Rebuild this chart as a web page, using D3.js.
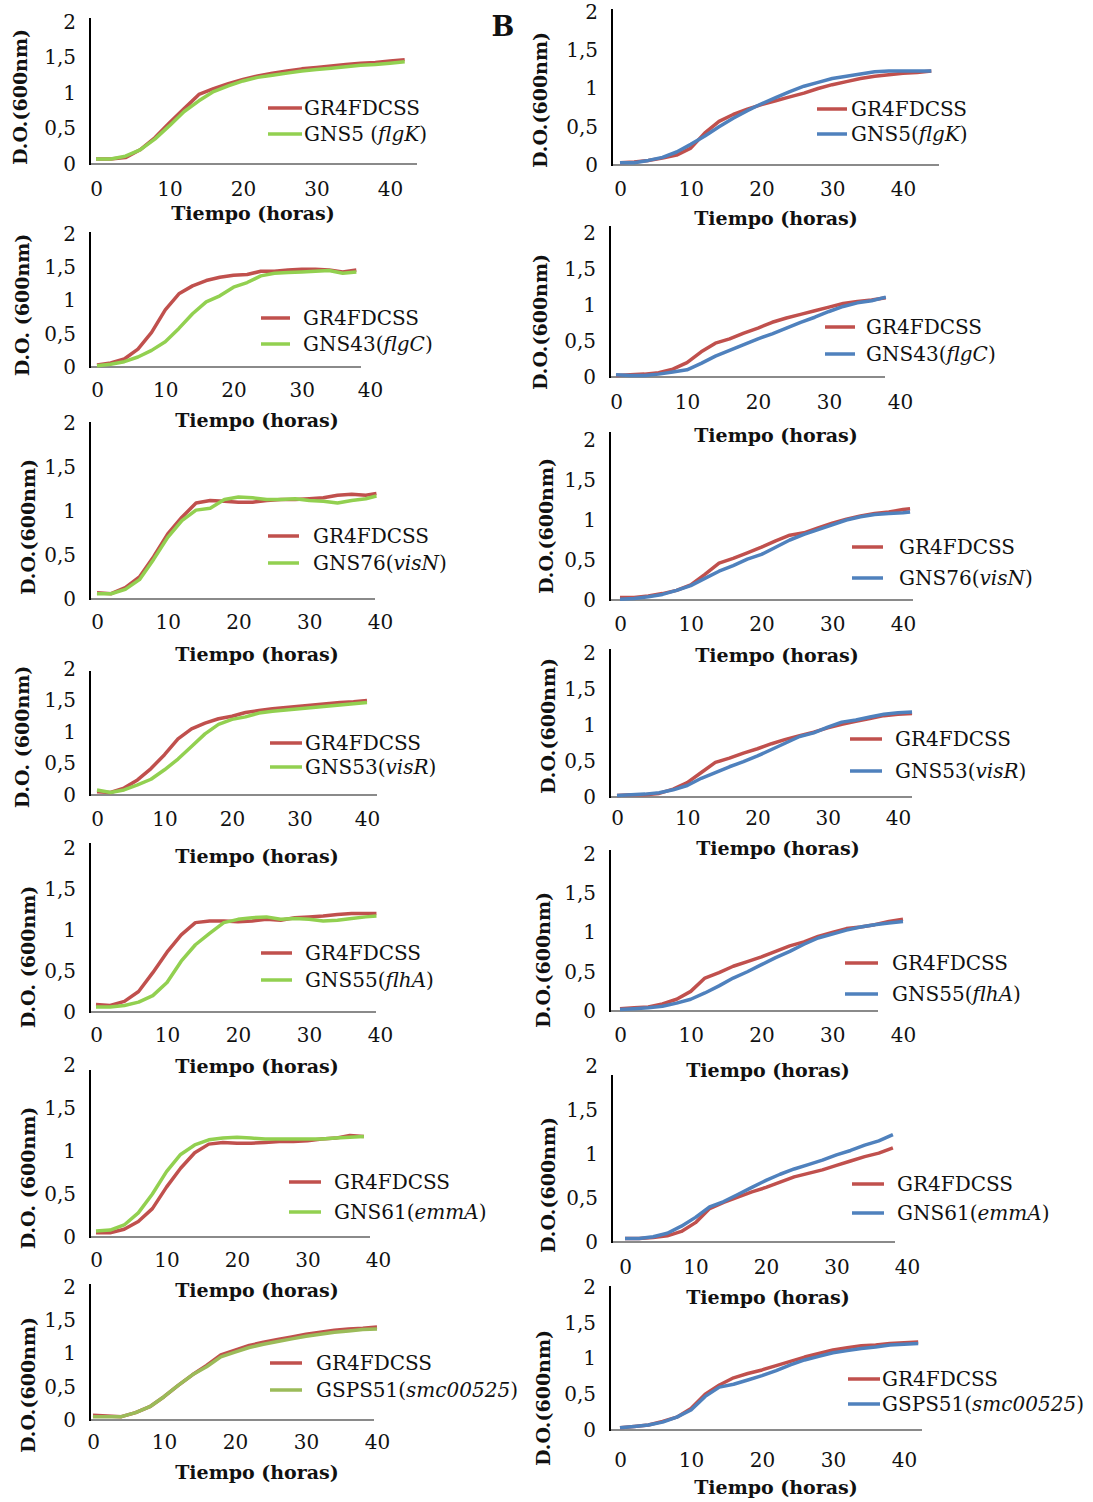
<!DOCTYPE html>
<html>
<head>
<meta charset="utf-8">
<script src="https://cdn.jsdelivr.net/npm/d3@7"></script>
<style>
  body { margin: 0; background: #fff; }
  svg { display: block; }
  text { font-family: "DejaVu Serif", serif; fill: #111; }
</style>
</head>
<body>
<div id="fig"></div>
<script>
// ---- data ----
const yTicks = [0, 0.5, 1, 1.5, 2]
const xTicks = [0, 10, 20, 30, 40]
const wildName = 'GR4FDCSS'
const yLabel = 'D.O.(600nm)'
const yLabelSp = 'D.O. (600nm)'
const xLabel = 'Tiempo (horas)'

const hours2 = (n) => d3.range(0, n + 1, 2) // 0,2,4,... sampling grid of the curves

const hoursA1 = hours2(42)
const wildA1 = [0.07,0.07,0.09,0.2,0.37,0.58,0.78,0.98,1.06,1.13,1.19,1.24,1.28,1.31,1.34,1.36,1.38,1.4,1.42,1.43,1.45,1.47]
const mutA1 = [0.07,0.07,0.11,0.2,0.35,0.54,0.74,0.89,1.02,1.1,1.17,1.22,1.25,1.28,1.31,1.33,1.35,1.37,1.39,1.4,1.42,1.44]

const hoursB1 = hours2(44)
const wildB1 = [0.03,0.04,0.06,0.09,0.13,0.22,0.42,0.57,0.66,0.73,0.79,0.84,0.89,0.94,1.0,1.05,1.09,1.13,1.16,1.18,1.2,1.21,1.23]
const mutB1 = [0.03,0.03,0.06,0.1,0.17,0.27,0.38,0.5,0.61,0.71,0.8,0.88,0.96,1.03,1.08,1.13,1.16,1.19,1.22,1.23,1.23,1.23,1.23]

const hoursA2 = hours2(38)
const wildA2 = [0.03,0.06,0.12,0.27,0.52,0.86,1.1,1.22,1.3,1.35,1.38,1.39,1.44,1.44,1.46,1.47,1.47,1.46,1.43,1.46]
const mutA2 = [0.02,0.04,0.08,0.15,0.25,0.38,0.58,0.8,0.98,1.07,1.2,1.27,1.37,1.41,1.42,1.43,1.44,1.45,1.41,1.43]

const hoursB2 = hours2(38)
const wildB2 = [0.02,0.03,0.04,0.06,0.11,0.2,0.35,0.47,0.53,0.61,0.68,0.76,0.82,0.87,0.92,0.97,1.02,1.05,1.07,1.1]
const mutB2 = [0.03,0.02,0.02,0.04,0.07,0.1,0.19,0.29,0.37,0.45,0.53,0.6,0.68,0.76,0.83,0.91,0.98,1.03,1.06,1.11]

const hoursA3 = [0,2,4,6,8,10,12,14,16,18,20,22,24,26,28,30,32,34,36,38,39.5]
const wildA3 = [0.07,0.06,0.13,0.25,0.48,0.74,0.93,1.09,1.12,1.11,1.1,1.1,1.12,1.13,1.13,1.14,1.15,1.18,1.19,1.18,1.2]
const mutA3 = [0.06,0.06,0.11,0.22,0.45,0.7,0.89,1.01,1.03,1.13,1.16,1.15,1.13,1.13,1.14,1.12,1.11,1.09,1.12,1.14,1.17]

const hoursB3 = [0,2,4,6,8,10,12,14,16,18,20,22,24,26,28,30,32,34,36,38,40,41]
const wildB3 = [0.03,0.03,0.05,0.08,0.12,0.19,0.32,0.46,0.52,0.59,0.66,0.74,0.81,0.84,0.9,0.96,1.01,1.05,1.08,1.1,1.13,1.14]
const mutB3 = [0.01,0.02,0.04,0.07,0.12,0.18,0.27,0.36,0.43,0.51,0.57,0.66,0.75,0.82,0.88,0.94,1.0,1.04,1.07,1.08,1.09,1.1]

const hoursA4 = hours2(40)
const wildA4 = [0.05,0.04,0.11,0.24,0.42,0.64,0.89,1.05,1.14,1.21,1.25,1.31,1.34,1.37,1.39,1.41,1.43,1.45,1.47,1.48,1.5]
const mutA4 = [0.08,0.04,0.08,0.16,0.25,0.4,0.57,0.77,0.97,1.12,1.2,1.24,1.3,1.33,1.35,1.37,1.39,1.41,1.43,1.45,1.47]

const hoursB4 = hours2(42)
const wildB4 = [0.02,0.03,0.03,0.05,0.11,0.2,0.34,0.48,0.54,0.61,0.67,0.74,0.8,0.85,0.9,0.96,1.01,1.05,1.09,1.13,1.15,1.16]
const mutB4 = [0.02,0.03,0.04,0.06,0.1,0.16,0.26,0.34,0.42,0.49,0.57,0.66,0.75,0.84,0.89,0.97,1.04,1.07,1.11,1.15,1.17,1.18]

const hoursA5 = [0,2,4,6,8,10,12,14,16,18,20,22,24,26,28,30,32,34,36,38,39.5]
const wildA5 = [0.09,0.08,0.13,0.25,0.48,0.73,0.94,1.09,1.11,1.11,1.1,1.11,1.13,1.12,1.15,1.16,1.17,1.19,1.2,1.2,1.2]
const mutA5 = [0.06,0.06,0.08,0.12,0.2,0.36,0.62,0.82,0.96,1.09,1.13,1.15,1.16,1.13,1.14,1.13,1.11,1.12,1.14,1.16,1.17]

const hoursB5 = hours2(40)
const wildB5 = [0.03,0.04,0.05,0.09,0.15,0.25,0.42,0.49,0.57,0.63,0.69,0.76,0.83,0.88,0.95,1.0,1.05,1.07,1.1,1.14,1.17]
const mutB5 = [0.02,0.03,0.04,0.06,0.1,0.15,0.23,0.32,0.42,0.5,0.59,0.68,0.76,0.85,0.93,0.98,1.03,1.07,1.1,1.12,1.14]

const hoursA6 = hours2(38)
const wildA6 = [0.05,0.05,0.09,0.18,0.33,0.58,0.8,0.98,1.08,1.1,1.09,1.09,1.1,1.11,1.11,1.12,1.14,1.15,1.18,1.17]
const mutA6 = [0.07,0.08,0.14,0.28,0.5,0.76,0.96,1.07,1.13,1.15,1.16,1.15,1.14,1.14,1.14,1.14,1.14,1.15,1.16,1.17]

const hoursB6 = hours2(38)
const wildB6 = [0.04,0.04,0.05,0.07,0.12,0.22,0.38,0.45,0.51,0.57,0.62,0.68,0.74,0.78,0.82,0.87,0.92,0.97,1.01,1.07]
const mutB6 = [0.04,0.04,0.06,0.1,0.18,0.28,0.4,0.46,0.54,0.62,0.7,0.77,0.83,0.88,0.93,0.99,1.04,1.1,1.15,1.22]

const hoursA7 = hours2(40)
const wildA7 = [0.07,0.06,0.05,0.11,0.2,0.35,0.52,0.68,0.82,0.98,1.05,1.12,1.17,1.21,1.25,1.29,1.32,1.35,1.37,1.38,1.4]
const mutA7 = [0.05,0.05,0.05,0.11,0.2,0.35,0.52,0.68,0.8,0.95,1.02,1.09,1.14,1.18,1.22,1.26,1.29,1.32,1.34,1.36,1.37]

const hoursB7 = hours2(42)
const wildB7 = [0.03,0.05,0.07,0.12,0.18,0.3,0.5,0.63,0.73,0.79,0.84,0.9,0.96,1.02,1.07,1.12,1.15,1.18,1.19,1.21,1.22,1.23]
const mutB7 = [0.03,0.05,0.07,0.11,0.18,0.28,0.47,0.6,0.64,0.7,0.76,0.83,0.91,0.98,1.03,1.08,1.11,1.14,1.16,1.19,1.2,1.21]

// mutant legend names: [before, italic gene, after]
const nameFlgK = ['GNS5 (', 'flgK', ')']
const nameFlgKb = ['GNS5(', 'flgK', ')']
const nameFlgC = ['GNS43(', 'flgC', ')']
const nameVisN = ['GNS76(', 'visN', ')']
const nameVisR = ['GNS53(', 'visR', ')']
const nameFlhA = ['GNS55(', 'flhA', ')']
const nameEmmA = ['GNS61(', 'emmA', ')']
const nameSmc = ['GSPS51(', 'smc00525', ')']

// ---- colours ----
const red = '#C0504D'
const green = '#92D050'
const olive = '#9BBB59'
const blue = '#4F81BD'

// ---- layout of the 14 panels (pixels) ----
// ax: y-axis x, top: axis top, y0/y2: pixel of 0 and 2, x0/x40: pixel of 0 and 40 h, xEnd: end of x axis
const panels = [
  { hours: hoursA1, wild: wildA1, mut: mutA1, name: nameFlgK, col: green, ax: 90, top: 18, y0: 164, y2: 22, x0: 96, x40: 390, xEnd: 417, tickY: 189,
    leg: [268, 302, 304, 108, 134], title: [253, 213], ylab: [20, 97, yLabel] },
  { hours: hoursA2, wild: wildA2, mut: mutA2, name: nameFlgC, col: green, ax: 90, top: 232, y0: 367, y2: 234, x0: 97, x40: 370, xEnd: 361, tickY: 390,
    leg: [261, 290, 303, 318, 344], title: [257, 420], ylab: [22, 305, yLabelSp] },
  { hours: hoursA3, wild: wildA3, mut: mutA3, name: nameVisN, col: green, ax: 90, top: 422, y0: 599, y2: 423, x0: 97, x40: 380, xEnd: 375, tickY: 622,
    leg: [268, 299, 313, 536, 563], title: [257, 654], ylab: [28, 527, yLabel] },
  { hours: hoursA4, wild: wildA4, mut: mutA4, name: nameVisR, col: green, ax: 90, top: 671, y0: 795, y2: 669, x0: 97, x40: 367, xEnd: 377, tickY: 819,
    leg: [270, 302, 305, 743, 767], title: [257, 856], ylab: [22, 737, yLabelSp] },
  { hours: hoursA5, wild: wildA5, mut: mutA5, name: nameFlhA, col: green, ax: 90, top: 843, y0: 1012, y2: 848, x0: 96, x40: 380, xEnd: 376, tickY: 1035,
    leg: [261, 292, 305, 953, 980], title: [257, 1066], ylab: [28, 957, yLabelSp] },
  { hours: hoursA6, wild: wildA6, mut: mutA6, name: nameEmmA, col: green, ax: 90, top: 1070, y0: 1237, y2: 1065, x0: 96, x40: 378, xEnd: 370, tickY: 1260,
    leg: [289, 321, 334, 1182, 1212], title: [257, 1290], ylab: [28, 1178, yLabelSp] },
  { hours: hoursA7, wild: wildA7, mut: mutA7, name: nameSmc, col: olive, ax: 90, top: 1284, y0: 1420, y2: 1287, x0: 93, x40: 377, xEnd: 374, tickY: 1442,
    leg: [270, 302, 316, 1363, 1390], title: [257, 1472], ylab: [28, 1385, yLabel] },
  { hours: hoursB1, wild: wildB1, mut: mutB1, name: nameFlgKb, col: blue, ax: 612, top: 9, y0: 165, y2: 12, x0: 620, x40: 903, xEnd: 939, tickY: 189,
    leg: [817, 847, 851, 109, 134], title: [776, 218], ylab: [540, 100, yLabel] },
  { hours: hoursB2, wild: wildB2, mut: mutB2, name: nameFlgC, col: blue, ax: 610, top: 226, y0: 377, y2: 233, x0: 616, x40: 900, xEnd: 885, tickY: 402,
    leg: [825, 855, 866, 327, 354], title: [776, 435], ylab: [540, 322, yLabel] },
  { hours: hoursB3, wild: wildB3, mut: mutB3, name: nameVisN, col: blue, ax: 610, top: 432, y0: 600, y2: 440, x0: 620, x40: 903, xEnd: 913, tickY: 624,
    leg: [852, 883, 899, 547, 578], title: [777, 655], ylab: [546, 526, yLabel] },
  { hours: hoursB4, wild: wildB4, mut: mutB4, name: nameVisR, col: blue, ax: 610, top: 649, y0: 797, y2: 653, x0: 617, x40: 898, xEnd: 912, tickY: 818,
    leg: [850, 882, 895, 739, 771], title: [778, 848], ylab: [548, 726, yLabel] },
  { hours: hoursB5, wild: wildB5, mut: mutB5, name: nameFlhA, col: blue, ax: 610, top: 850, y0: 1011, y2: 854, x0: 620, x40: 903, xEnd: 878, tickY: 1035,
    leg: [845, 878, 892, 963, 994], title: [768, 1070], ylab: [543, 960, yLabel] },
  { hours: hoursB6, wild: wildB6, mut: mutB6, name: nameEmmA, col: blue, ax: 612, top: 1075, y0: 1242, y2: 1066, x0: 625, x40: 907, xEnd: 895, tickY: 1267,
    leg: [852, 884, 897, 1184, 1213], title: [768, 1297], ylab: [548, 1185, yLabel] },
  { hours: hoursB7, wild: wildB7, mut: mutB7, name: nameSmc, col: blue, ax: 610, top: 1286, y0: 1430, y2: 1287, x0: 620, x40: 904, xEnd: 922, tickY: 1460,
    leg: [848, 880, 882, 1379, 1404], title: [776, 1487], ylab: [543, 1398, yLabel] }
]

const svg = d3.select('#fig').append('svg').attr('width', 1093).attr('height', 1502)

const fmt = (d) => String(d).replace('.', ',')

function drawPanel(p) {
  const x = d3.scaleLinear().domain([0, 40]).range([p.x0, p.x40])
  const y = d3.scaleLinear().domain([0, 2]).range([p.y0, p.y2])
  const g = svg.append('g')

  // y tick labels
  g.append('g')
    .attr('transform', `translate(${p.ax}, 0)`)
    .call(d3.axisLeft(y).tickValues(yTicks).tickSize(0).tickPadding(14).tickFormat(fmt))
    .call((a) => a.select('.domain').remove())
    .selectAll('text')
    .attr('font-size', 20)
    .attr('font-family', '"DejaVu Serif", serif')
    .attr('fill', '#111')

  // x tick labels
  g.append('g')
    .attr('transform', `translate(0, ${p.y0})`)
    .call(d3.axisBottom(x).tickValues(xTicks).tickSize(0))
    .call((a) => a.select('.domain').remove())
    .selectAll('text')
    .attr('y', p.tickY - p.y0)
    .attr('dy', '0.35em')
    .attr('font-size', 20)
    .attr('font-family', '"DejaVu Serif", serif')
    .attr('fill', '#111')

  // x axis line (grey) and y axis line (black)
  g.append('line')
    .attr('x1', p.ax).attr('x2', x(x.invert(p.xEnd)))
    .attr('y1', y(0)).attr('y2', y(0))
    .attr('stroke', '#8a8a8a').attr('stroke-width', 2)
  g.append('line')
    .attr('x1', p.ax).attr('x2', p.ax)
    .attr('y1', p.top).attr('y2', y(0) + 1)
    .attr('stroke', '#000').attr('stroke-width', 2)

  const line = d3.line().x((d) => x(d[0])).y((d) => y(d[1]))
  const series = [
    { vals: p.wild, col: red },
    { vals: p.mut, col: p.col }
  ]
  g.selectAll('path.curve')
    .data(series)
    .join('path')
    .attr('class', 'curve')
    .attr('d', (s) => line(p.hours.map((h, i) => [h, s.vals[i]])))
    .attr('fill', 'none')
    .attr('stroke', (s) => s.col)
    .attr('stroke-width', 3.5)
    .attr('stroke-linejoin', 'round')

  // legend
  const [lx1, lx2, tx, ly1, ly2] = p.leg
  const legend = g.append('g').attr('font-size', 20)
  ;[[ly1, red], [ly2, p.col]].forEach(([ly, c]) => {
    legend.append('line')
      .attr('x1', lx1).attr('x2', lx2).attr('y1', ly).attr('y2', ly)
      .attr('stroke', c).attr('stroke-width', 3.5)
  })
  legend.append('text').attr('x', tx).attr('y', ly1).attr('dy', '0.35em').text(wildName)
  const t2 = legend.append('text').attr('x', tx).attr('y', ly2).attr('dy', '0.35em')
  t2.append('tspan').text(p.name[0])
  t2.append('tspan').attr('font-style', 'italic').text(p.name[1])
  t2.append('tspan').text(p.name[2])

  // axis titles
  g.append('text')
    .attr('x', p.title[0]).attr('y', p.title[1]).attr('dy', '0.35em')
    .attr('text-anchor', 'middle').attr('font-weight', 'bold').attr('font-size', 19)
    .text(xLabel)
  g.append('text')
    .attr('transform', `translate(${p.ylab[0]}, ${p.ylab[1]}) rotate(-90)`)
    .attr('dy', '0.35em')
    .attr('text-anchor', 'middle').attr('font-weight', 'bold').attr('font-size', 19)
    .text(p.ylab[2])
}

panels.forEach(drawPanel)

svg.append('text')
  .attr('x', 503).attr('y', 27).attr('dy', '0.35em')
  .attr('text-anchor', 'middle').attr('font-weight', 'bold').attr('font-size', 27)
  .text('B')
</script>
</body>
</html>
